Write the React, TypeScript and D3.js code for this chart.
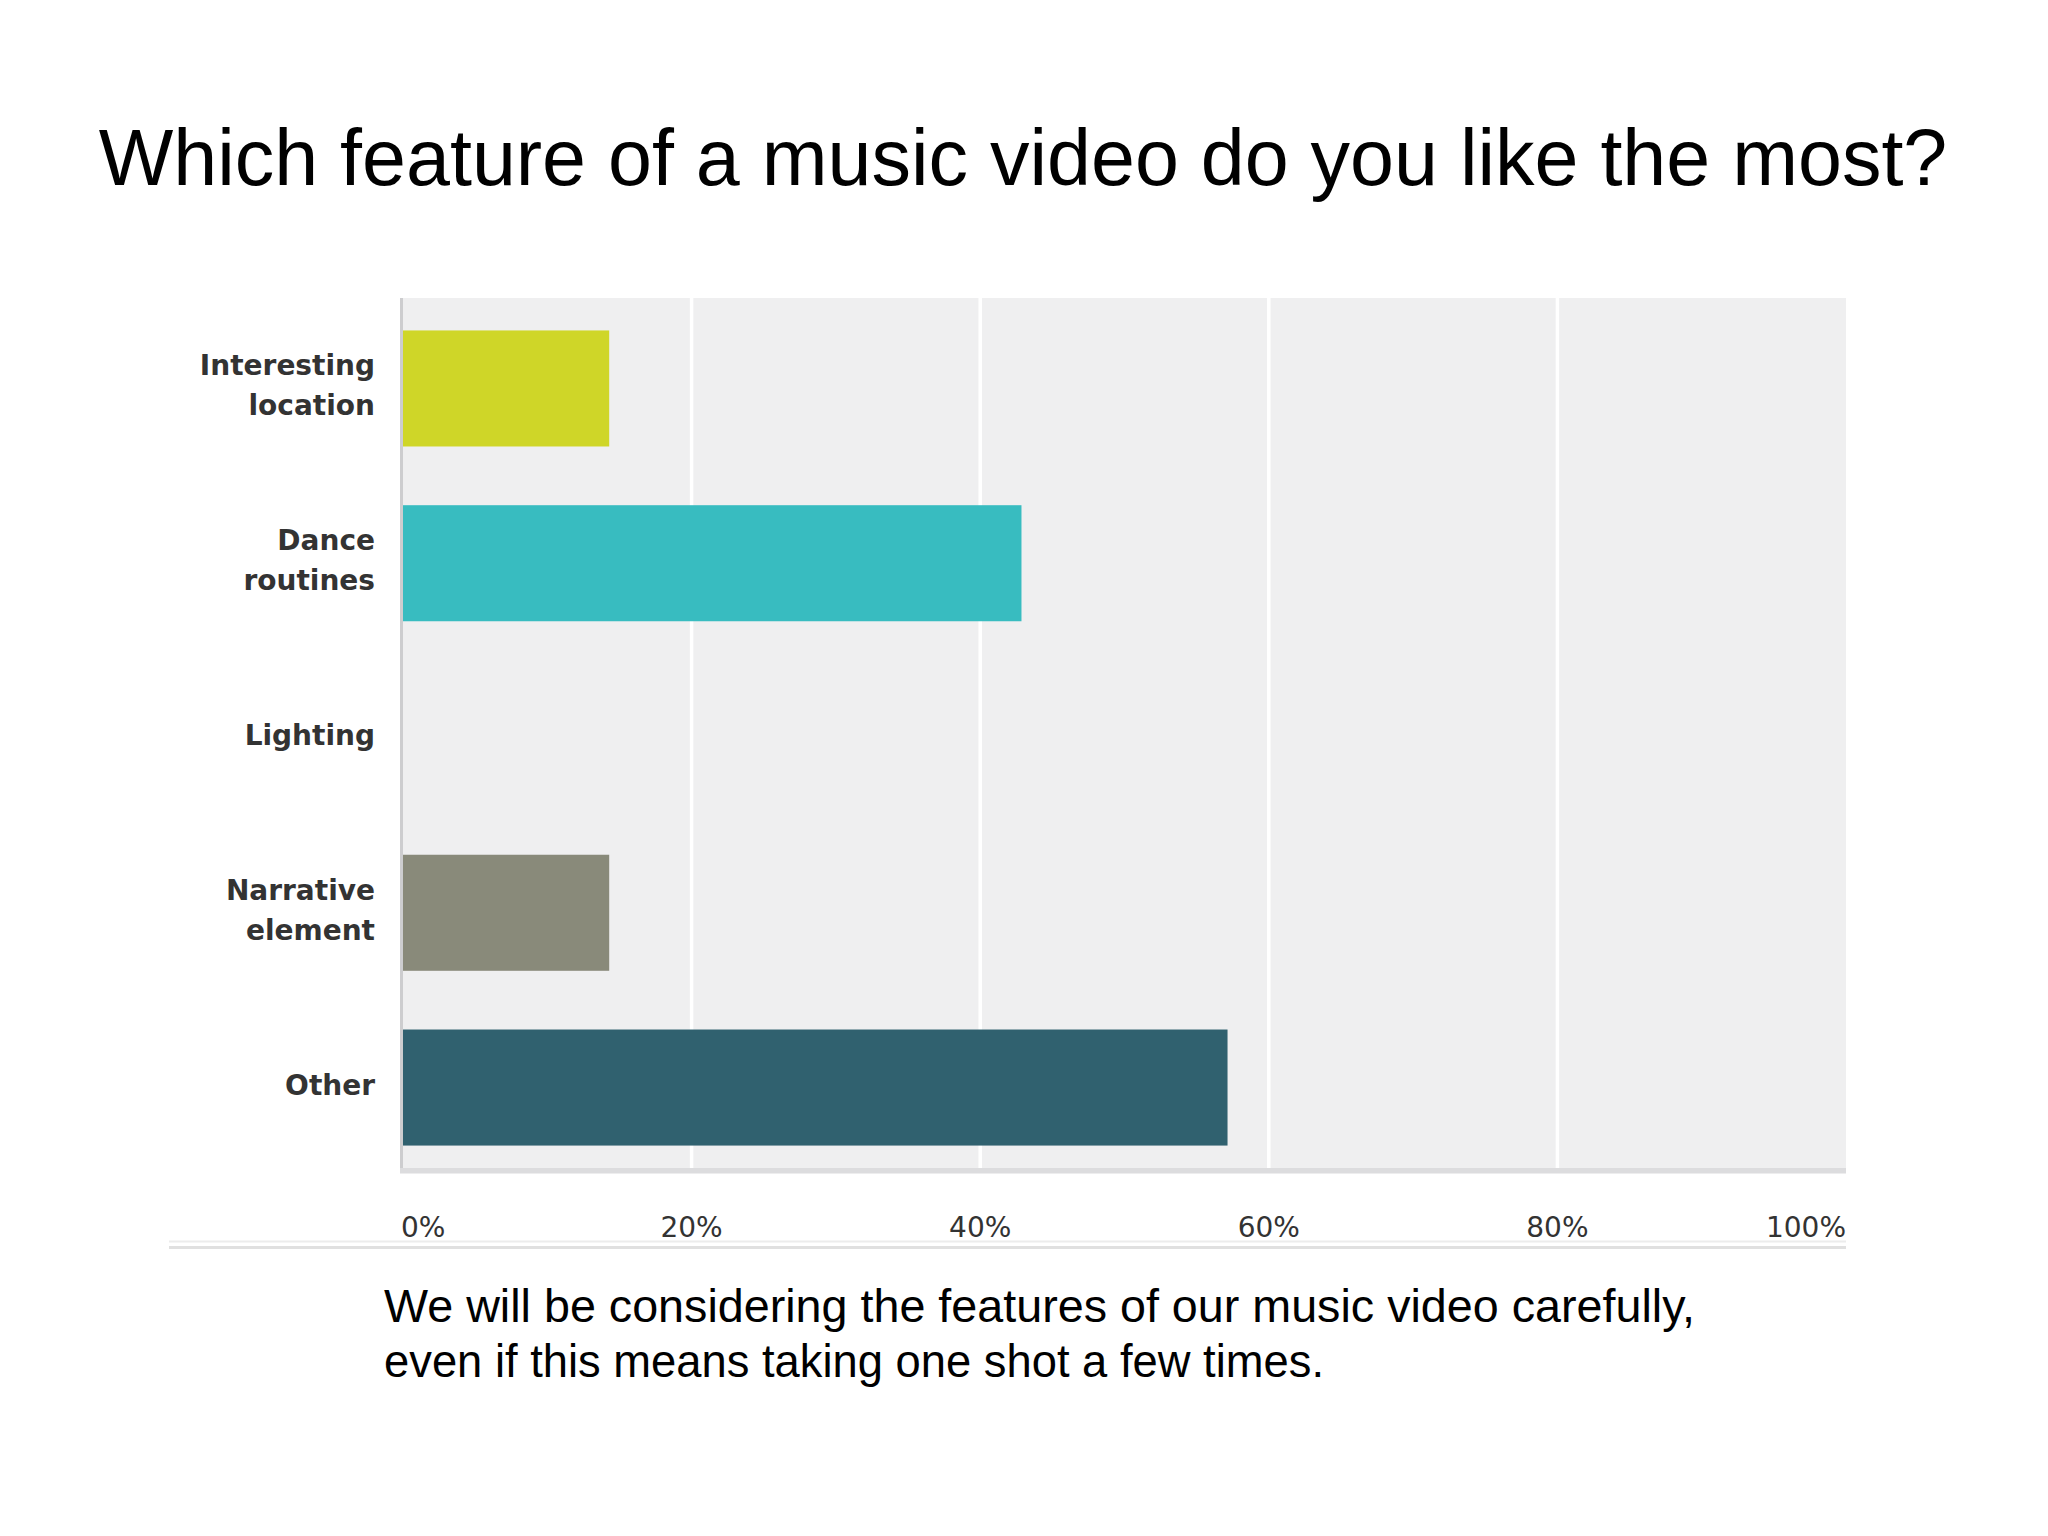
import React from "react";
import * as d3 from "d3";

const categories = [
  ["Interesting", "location"],
  ["Dance", "routines"],
  ["Lighting"],
  ["Narrative", "element"],
  ["Other"],
];
const values = [14.29, 42.86, 0, 14.29, 57.14];
const barColors = ["#cfd628", "#38bcc0", "#9e9e9e", "#898a7a", "#30616f"];
const tickValues = [0, 20, 40, 60, 80, 100];
const tickLabels = ["0%", "20%", "40%", "60%", "80%", "100%"];
const titleText = "Which feature of a music video do you like the most?";
const captionLines = [
  "We will be considering the features of our music video carefully,",
  "even if this means taking one shot a few times.",
];
const captionWidths = [1311, 940];

const W = 2048;
const H = 1536;
const plot = { left: 403, right: 1846, top: 298, bottom: 1168 };

export default function App() {
  const x = d3.scaleLinear().domain([0, 100]).range([plot.left, plot.right]);
  const idx = categories.map((_, i) => String(i));
  const y = d3
    .scaleBand<string>()
    .domain(idx)
    .range([plot.top + 5, plot.bottom + 5])
    .paddingInner(0.336)
    .paddingOuter(0.157);

  return (
    <svg
      width={W}
      height={H}
      viewBox={`0 0 ${W} ${H}`}
      style={{ position: "absolute", left: 0, top: 0, background: "#fff" }}
    >
      <rect x={0} y={0} width={W} height={H} fill="#fff" />
      <text
        x={1023}
        y={185}
        textAnchor="middle"
        fontFamily="'Liberation Sans', Arial, sans-serif"
        fontSize={79}
        fill="#000"
      >
        {titleText}
      </text>

      {/* plot background */}
      <rect
        x={plot.left}
        y={plot.top}
        width={plot.right - plot.left}
        height={plot.bottom - plot.top}
        fill="#efeff0"
      />
      {/* gridlines */}
      {tickValues.slice(1, -1).map((t) => (
        <line
          key={t}
          x1={x(t)}
          x2={x(t)}
          y1={plot.top}
          y2={plot.bottom}
          stroke="#ffffff"
          strokeWidth={3.5}
        />
      ))}
      {/* bars */}
      {values.map((v, i) =>
        v > 0 ? (
          <rect
            key={i}
            x={x(0)}
            y={y(String(i))}
            width={x(v) - x(0)}
            height={y.bandwidth()}
            fill={barColors[i]}
          />
        ) : null
      )}
      {/* left axis line */}
      <line
        x1={plot.left - 1.5}
        x2={plot.left - 1.5}
        y1={plot.top}
        y2={plot.bottom + 5}
        stroke="#cdcdcf"
        strokeWidth={3}
      />
      {/* bottom band */}
      <rect
        x={plot.left - 3}
        y={plot.bottom}
        width={plot.right - plot.left + 3}
        height={5.5}
        fill="#dcdcde"
      />

      {/* category labels */}
      {categories.map((lines, i) => {
        const cy = (y(String(i)) as number) + y.bandwidth() / 2;
        const lh = 40;
        const first = cy - ((lines.length - 1) * lh) / 2 + 7;
        return (
          <text
            key={i}
            textAnchor="end"
            fontFamily="'DejaVu Sans', Verdana, sans-serif"
            fontWeight="bold"
            fontSize={28}
            fill="#333"
          >
            {lines.map((l, j) => (
              <tspan key={j} x={375} y={first + j * lh}>
                {l}
              </tspan>
            ))}
          </text>
        );
      })}

      {/* tick labels */}
      {tickValues.map((t, i) => (
        <text
          key={t}
          x={i === 0 ? x(t) - 2 : x(t)}
          y={1237}
          textAnchor={
            i === 0 ? "start" : i === tickValues.length - 1 ? "end" : "middle"
          }
          fontFamily="'DejaVu Sans', Verdana, sans-serif"
          fontSize={28}
          fill="#333"
        >
          {tickLabels[i]}
        </text>
      ))}

      {/* rule under ticks */}
      <line x1={169} x2={plot.right} y1={1241.5} y2={1241.5} stroke="#ececec" strokeWidth={2} />
      <line x1={169} x2={plot.right} y1={1247.5} y2={1247.5} stroke="#e0e0e0" strokeWidth={3} />

      {/* caption */}
      {captionLines.map((l, i) => (
        <text
          key={i}
          x={384}
          y={1322 + i * 55}
          fontFamily="'Liberation Sans', Arial, sans-serif"
          fontSize={46.5}
          fill="#000"
          textLength={captionWidths[i]}
          lengthAdjust="spacingAndGlyphs"
        >
          {l}
        </text>
      ))}
    </svg>
  );
}
